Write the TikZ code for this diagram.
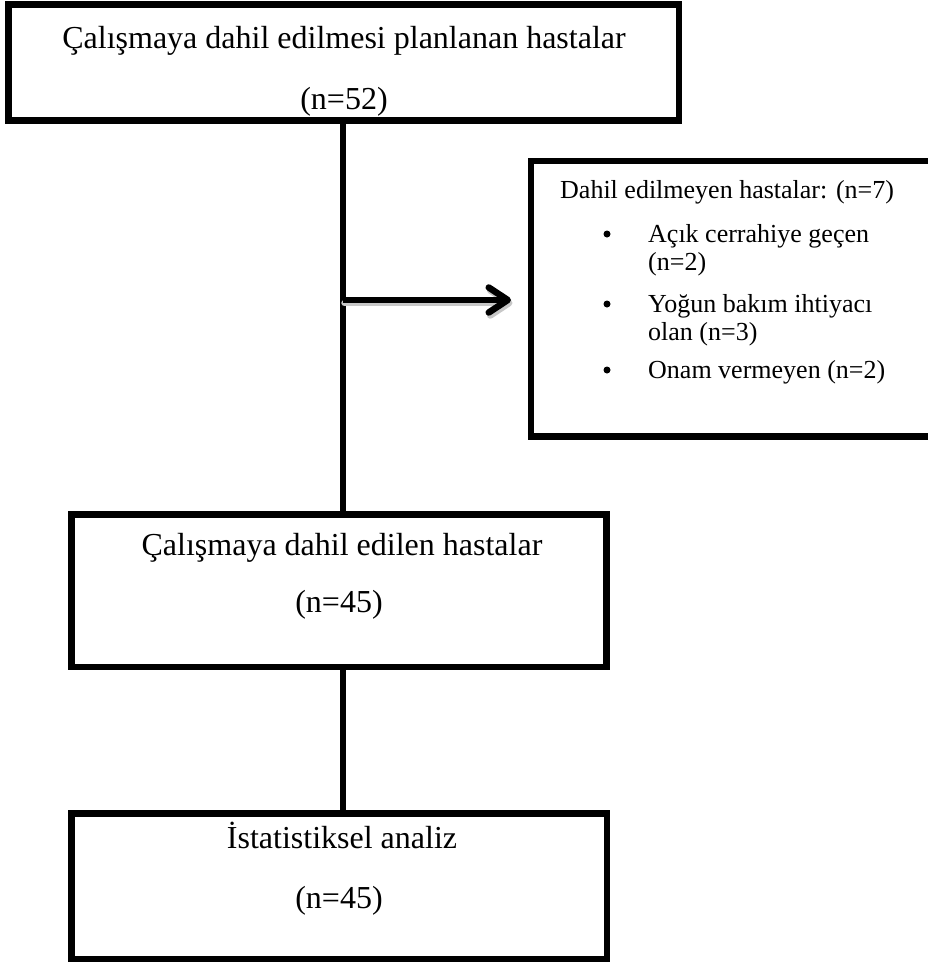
\documentclass[tikz,border=0pt]{standalone}
\usepackage{fontspec}
\setmainfont{Liberation Serif}
\usetikzlibrary{arrows.meta}
\begin{document}
\begin{tikzpicture}[x=1pt,y=-1pt,
  boxstyle/.style={draw=black, line width=6.5pt, inner sep=0pt, outer sep=0pt},
  bigtext/.style={font=\fontsize{32}{38}\selectfont, anchor=base, inner sep=0pt},
  smalltext/.style={font=\fontsize{26}{31}\selectfont, anchor=base west, inner sep=0pt},
  bulletdot/.style={circle, fill=black, inner sep=0pt, minimum size=7pt},
  link/.style={line width=6.5pt, draw=black},
  shadowline/.style={line width=6.5pt, draw=black!22}]
\useasboundingbox (0,0) rectangle (928,962);

% boxes
\node[boxstyle, minimum width=670.5pt, minimum height=116pt] (top) at (343.75,62.5) {};
\node[boxstyle, minimum width=403pt, minimum height=275.5pt] (excl) at (732.5,298.75) {};
\node[boxstyle, minimum width=535pt, minimum height=152.5pt] (incl) at (339,590.75) {};
\node[boxstyle, minimum width=535.5pt, minimum height=146pt] (stat) at (339.25,886.5) {};

% spine coordinates
\coordinate (spine) at (343,0);
\coordinate (branch) at (343,300);
\coordinate (tip) at (511,300);

% connectors
\draw[link] (top.south -| spine) -- (incl.north -| spine);
\draw[link] (incl.south -| spine) -- (stat.north -| spine);
\draw[shadowline, -{Straight Barb[length=19pt,width=25pt,round]}, line cap=round]
  ([shift={(1.5,3)}]branch) -- ([shift={(1.5,3)}]tip);
\draw[link, -{Straight Barb[length=19pt,width=25pt,round]}] (branch) -- (tip);

% texts of the top box
\node[bigtext] (toptitle) at (344,48) {Çalışmaya dahil edilmesi planlanan hastalar};
\node[bigtext] (topn) at (344,109) {(n=52)};

% texts of the included box
\node[bigtext] (incltitle) at (342,555) {Çalışmaya dahil edilen hastalar};
\node[bigtext] (incln) at (339,612) {(n=45)};

% texts of the statistics box
\node[bigtext] (stattitle) at (342,848) {İstatistiksel analiz};
\node[bigtext] (statn) at (339,908) {(n=45)};

% texts of the excluded box
\node[smalltext] (excltitle) at (560,198) {Dahil edilmeyen hastalar: (n=7)};
\node[smalltext] (ea) at (648,242) {Açık cerrahiye geçen};
\node[smalltext] (eb) at (648,270) {(n=2)};
\node[smalltext] (ec) at (648,312) {Yoğun bakım ihtiyacı};
\node[smalltext] (ed) at (648,340) {olan (n=3)};
\node[smalltext] (ee) at (648,378) {Onam vermeyen (n=2)};
\node[bulletdot] (b1) at (607,234) {};
\node[bulletdot] (b2) at (607,304) {};
\node[bulletdot] (b3) at (607,370) {};
\end{tikzpicture}
\end{document}
